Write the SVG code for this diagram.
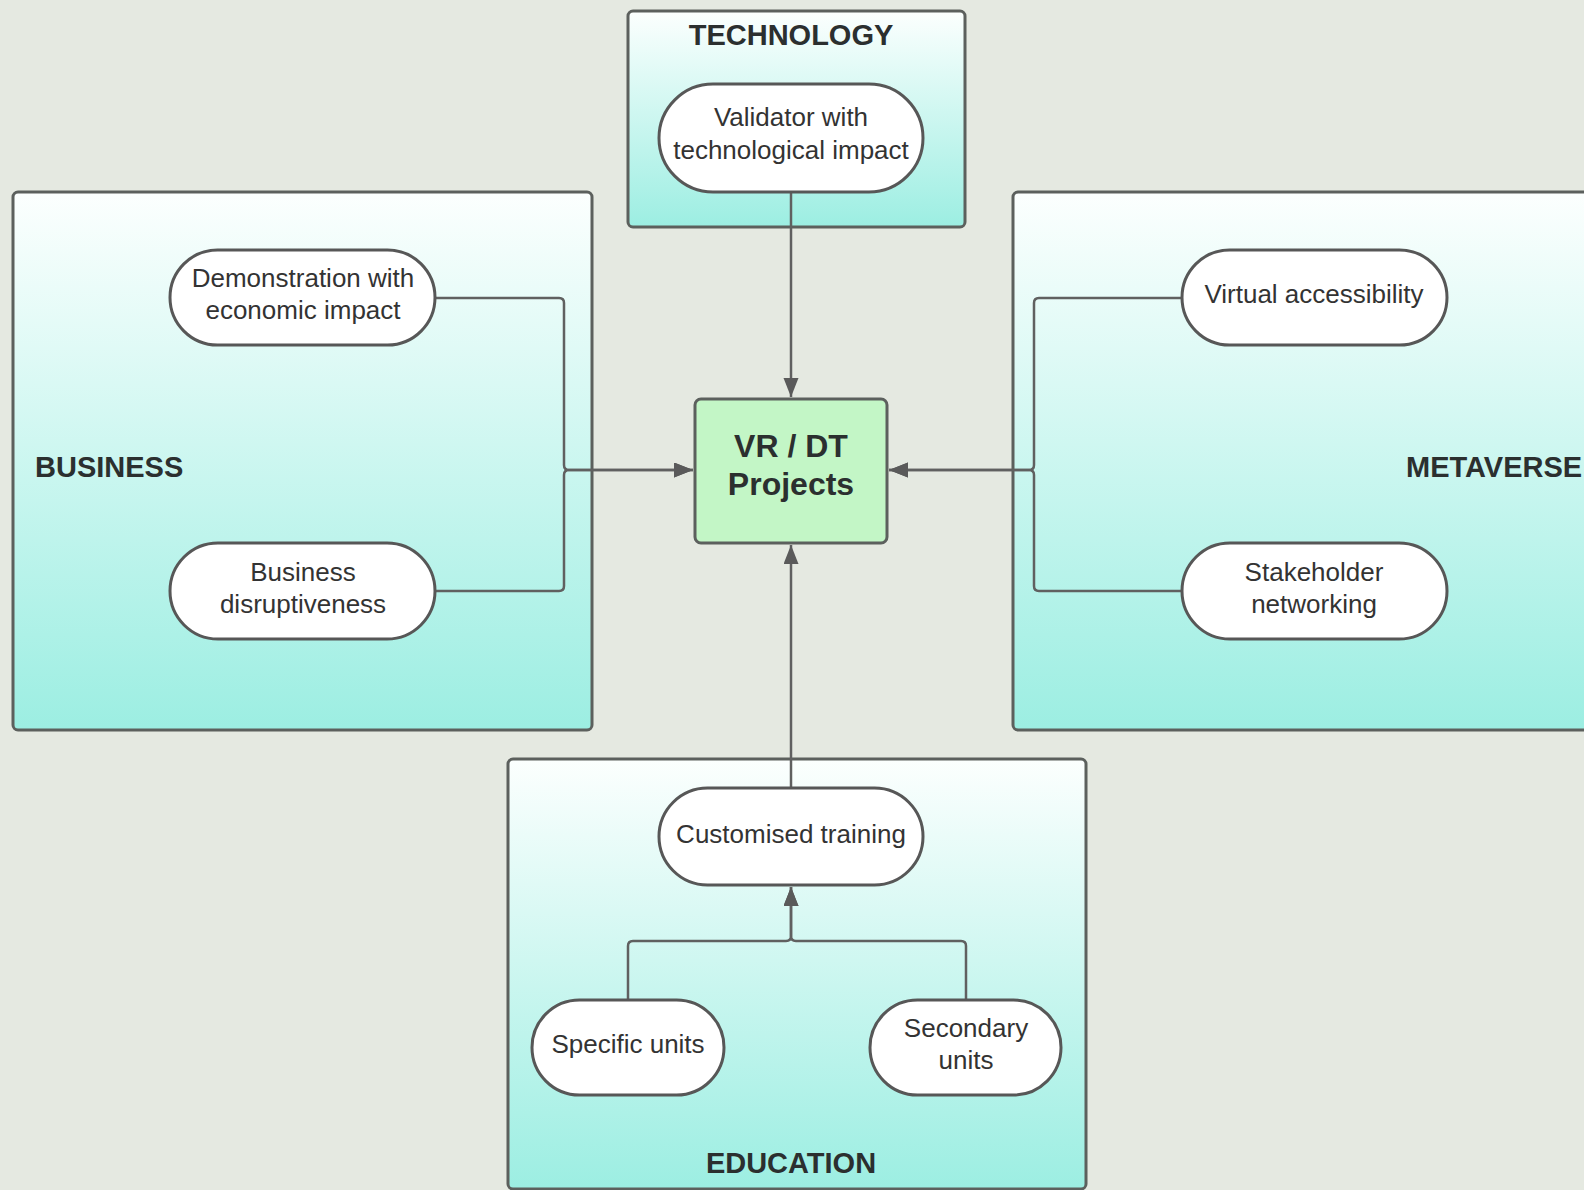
<svg xmlns="http://www.w3.org/2000/svg" width="1584" height="1190" viewBox="0 0 1584 1190">
<style>
.bg{fill:#e5e9e1}
.box{stroke:#5c605d;stroke-width:3;fill:url(#g)}
.pill{fill:#fff;stroke:#575757;stroke-width:3}
.t{font-family:"Liberation Sans",Arial,sans-serif;font-size:26px;fill:#333;text-anchor:middle}
.h{font-family:"Liberation Sans",Arial,sans-serif;font-size:29px;font-weight:bold;fill:#2b2f2f}
.c{fill:none;stroke:#606060;stroke-width:2.5}
</style>
<defs>
<linearGradient id="g" x1="0" y1="0" x2="0" y2="1">
<stop offset="0" stop-color="#fcfffe"/>
<stop offset="1" stop-color="#9ceee2"/>
</linearGradient>
<marker id="a" markerUnits="userSpaceOnUse" markerWidth="20" markerHeight="16" refX="19" refY="7.5" orient="auto">
<path d="M0,0 L19,7.5 L0,15 z" fill="#5a5a5a"/>
</marker>
</defs>
<rect class="bg" x="0" y="0" width="1584" height="1190"/>

<g id="technology">
<rect class="box" x="628" y="11" width="337" height="216" rx="5"/>
<text class="h" x="791" y="45" text-anchor="middle">TECHNOLOGY</text>
</g>
<g id="business">
<rect class="box" x="13" y="192" width="579" height="538" rx="5"/>
<text class="h" x="35" y="477">BUSINESS</text>
</g>
<g id="metaverse">
<rect class="box" x="1013" y="192" width="600" height="538" rx="5"/>
<text class="h" x="1406" y="477">METAVERSE</text>
</g>
<g id="education">
<rect class="box" x="508" y="759" width="578" height="430" rx="5"/>
<text class="h" x="791" y="1173" text-anchor="middle">EDUCATION</text>
</g>

<g id="connectors">
<path class="c" d="M791,192 V397" marker-end="url(#a)"/>
<path class="c" d="M791,788 V545" marker-end="url(#a)"/>
<path class="c" d="M435,298 H559 Q564,298 564,303 V465 Q564,470 569,470 H693" marker-end="url(#a)"/>
<path class="c" d="M435,591 H559 Q564,591 564,586 V475 Q564,470 569,470 H693" marker-end="url(#a)"/>
<path class="c" d="M1182,298 H1039 Q1034,298 1034,303 V465 Q1034,470 1029,470 H889" marker-end="url(#a)"/>
<path class="c" d="M1182,591 H1039 Q1034,591 1034,586 V475 Q1034,470 1029,470 H889" marker-end="url(#a)"/>
<path class="c" d="M628,1000 V946 Q628,941 633,941 H786 Q791,941 791,936 V887" marker-end="url(#a)"/>
<path class="c" d="M966,1000 V946 Q966,941 961,941 H796 Q791,941 791,936 V887" marker-end="url(#a)"/>
</g>

<g id="vr">
<rect x="695" y="399" width="192" height="144" rx="6" fill="#c3f6c6" stroke="#5c605d" stroke-width="3"/>
<text class="h" x="791" y="457" text-anchor="middle" style="font-size:32px">VR / DT</text>
<text class="h" x="791" y="495" text-anchor="middle" style="font-size:32px">Projects</text>
</g>
<g id="validator">
<rect class="pill" x="659" y="84" width="264" height="108" rx="54"/>
<text class="t" x="791" y="126">Validator with</text>
<text class="t" x="791" y="159">technological impact</text>
</g>
<g id="demonstration">
<rect class="pill" x="170" y="250" width="265" height="95" rx="47.5"/>
<text class="t" x="303" y="287">Demonstration with</text>
<text class="t" x="303" y="319">economic impact</text>
</g>
<g id="disruptiveness">
<rect class="pill" x="170" y="543" width="265" height="96" rx="48"/>
<text class="t" x="303" y="581">Business</text>
<text class="t" x="303" y="613">disruptiveness</text>
</g>
<g id="virtual">
<rect class="pill" x="1182" y="250" width="265" height="95" rx="47.5"/>
<text class="t" x="1314" y="303">Virtual accessibility</text>
</g>
<g id="stakeholder">
<rect class="pill" x="1182" y="543" width="265" height="96" rx="48"/>
<text class="t" x="1314" y="581">Stakeholder</text>
<text class="t" x="1314" y="613">networking</text>
</g>
<g id="customised">
<rect class="pill" x="659" y="788" width="264" height="97" rx="48.5"/>
<text class="t" x="791" y="843">Customised training</text>
</g>
<g id="specific">
<rect class="pill" x="532" y="1000" width="192" height="95" rx="47.5"/>
<text class="t" x="628" y="1053">Specific units</text>
</g>
<g id="secondary">
<rect class="pill" x="870" y="1000" width="191" height="95" rx="47.5"/>
<text class="t" x="966" y="1037">Secondary</text>
<text class="t" x="966" y="1069">units</text>
</g>
</svg>
